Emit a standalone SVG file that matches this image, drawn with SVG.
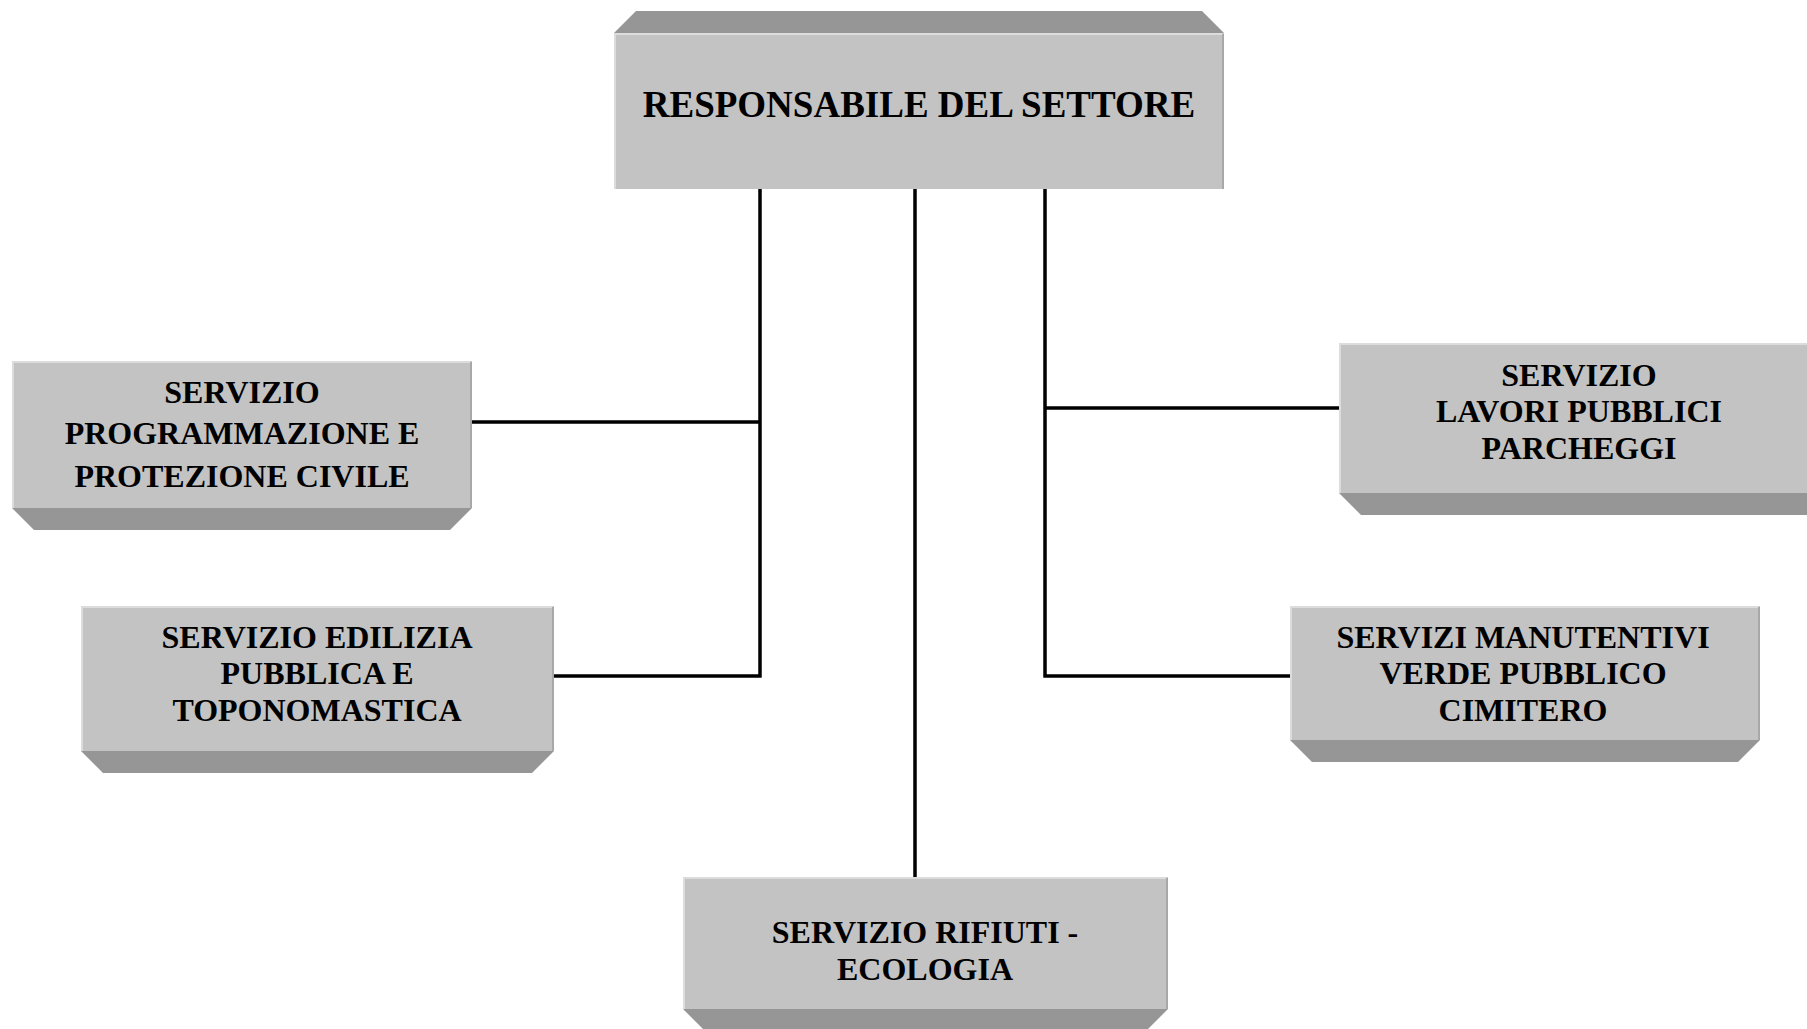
<svg xmlns="http://www.w3.org/2000/svg" width="1807" height="1029" viewBox="0 0 1807 1029">
<style>
.face{fill:#c3c3c3;}
.bevel{fill:#969696;}
.hl{fill:none;stroke:#dcdcdc;stroke-width:2;}
.sh{fill:none;stroke:#a8a8a8;stroke-width:2;}
.conn{fill:none;stroke:#000;stroke-width:3.5;}
text{font-family:"Liberation Serif","Times New Roman",serif;font-weight:bold;fill:#000;text-anchor:middle;}
.t{font-size:32px;}
.title{font-size:37px;}
</style>
<rect width="1807" height="1029" fill="#fff"/>
<g id="connectors">
<path class="conn" d="M760,189 V677.5 M915,189 V877 M1045,189 V677.5 M472,422 H761.5 M554,676 H761.5 M1043.5,408 H1339 M1043.5,676 H1290"/>
</g>
<g id="node-responsabile">
<polygon class="bevel" points="614,33 636,11 1202,11 1224,33"/>
<rect class="face" x="614" y="33" width="610" height="156"/>
<path class="hl" d="M615,189 V34 H1223"/>
<path class="sh" d="M1223,34 V189"/>
<text class="title" x="919" y="117">RESPONSABILE DEL SETTORE</text>
</g>
<g id="node-programmazione">
<polygon class="bevel" points="12,508 34,530 450,530 472,508"/>
<rect class="face" x="12" y="361" width="460" height="147"/>
<path class="hl" d="M13,508 V362 H471"/>
<path class="sh" d="M471,362 V508"/>
<text class="t" x="242" y="403">SERVIZIO</text>
<text class="t" x="242" y="444">PROGRAMMAZIONE E</text>
<text class="t" x="242" y="487">PROTEZIONE CIVILE</text>
</g>
<g id="node-edilizia">
<polygon class="bevel" points="81,751 103,773 532,773 554,751"/>
<rect class="face" x="81" y="606" width="473" height="145"/>
<path class="hl" d="M82,751 V607 H553"/>
<path class="sh" d="M553,607 V751"/>
<text class="t" x="317" y="648">SERVIZIO EDILIZIA</text>
<text class="t" x="317" y="684">PUBBLICA E</text>
<text class="t" x="317" y="721">TOPONOMASTICA</text>
</g>
<g id="node-lavori">
<polygon class="bevel" points="1339,493 1361,515 1808,515 1830,493"/>
<rect class="face" x="1339" y="343" width="491" height="150"/>
<path class="hl" d="M1340,493 V344 H1829"/>
<text class="t" x="1579" y="386">SERVIZIO</text>
<text class="t" x="1579" y="422">LAVORI PUBBLICI</text>
<text class="t" x="1579" y="459">PARCHEGGI</text>
</g>
<g id="node-manutentivi">
<polygon class="bevel" points="1290,740 1312,762 1738,762 1760,740"/>
<rect class="face" x="1290" y="606" width="470" height="134"/>
<path class="hl" d="M1291,740 V607 H1759"/>
<path class="sh" d="M1759,607 V740"/>
<text class="t" x="1523" y="648">SERVIZI MANUTENTIVI</text>
<text class="t" x="1523" y="684">VERDE PUBBLICO</text>
<text class="t" x="1523" y="721">CIMITERO</text>
</g>
<g id="node-rifiuti">
<polygon class="bevel" points="683,1009 705,1031 1146,1031 1168,1009"/>
<rect class="face" x="683" y="877" width="485" height="132"/>
<path class="hl" d="M684,1009 V878 H1167"/>
<path class="sh" d="M1167,878 V1009"/>
<text class="t" x="925" y="943">SERVIZIO RIFIUTI -</text>
<text class="t" x="925" y="980">ECOLOGIA</text>
</g>
</svg>
